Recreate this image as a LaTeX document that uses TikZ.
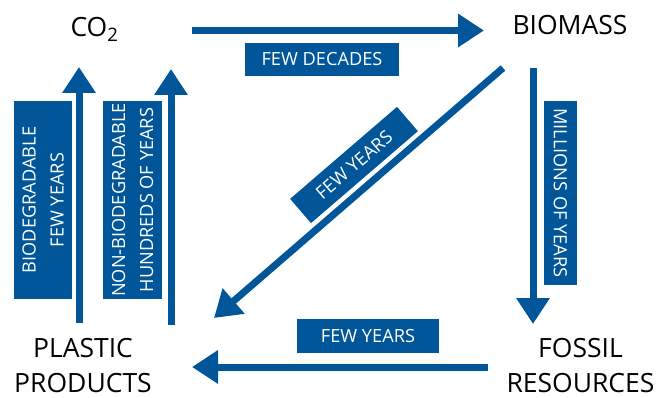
\documentclass[tikz,border=0pt]{standalone}
\usepackage{fontspec}
\setmainfont{Open Sans}
\usetikzlibrary{arrows.meta}
\definecolor{flowblue}{RGB}{0,86,153}
\begin{document}
\begin{tikzpicture}[x=1pt,y=-1pt,
  stage/.style={font=\fontsize{26.5}{35}\selectfont, align=center, text=black, inner sep=0pt, anchor=base},
  tag/.style={fill=flowblue, text=white, font=\fontsize{18.2}{28}\selectfont, align=center, inner sep=0pt},
  flow/.style={draw=flowblue, line width=7pt, -{Triangle[length=26pt,width=32pt]}},
]
\useasboundingbox (0,0) rectangle (656,398);

% stages of the carbon cycle (base anchor sits on the last line)
\node[stage] (co2) at (94.5,37) {CO\textsubscript{2}};
\node[stage] (biomass) at (570,35) {BIOMASS};
\node[stage] (fossil) at (580.5,392) {FOSSIL\\RESOURCES};
\node[stage] (plastic) at (83,392.5) {PLASTIC\\PRODUCTS};

% arrow end points
\coordinate (co2-out) at (192,30.5);
\coordinate (bio-in) at (484,30.5);
\coordinate (bio-down) at (533,68);
\coordinate (fos-in) at (533,324);
\coordinate (fos-out) at (488,367);
\coordinate (pla-in) at (192,367);
\coordinate (bio-diag) at (503,68);
\coordinate (pla-diag) at (214,318);
\coordinate (pla-up1) at (79,323);
\coordinate (co2-in1) at (79,67);
\coordinate (pla-up2) at (171,325);
\coordinate (co2-in2) at (171,69);

% transitions
\draw[flow] (co2-out) -- (bio-in);
\draw[flow] (bio-down) -- (fos-in);
\draw[flow] (fos-out) -- (pla-in);
\draw[flow] (bio-diag) -- (pla-diag);
\draw[flow] (pla-up1) -- (co2-in1);
\draw[flow] (pla-up2) -- (co2-in2);

% time scales
\node[tag, minimum width=154pt, minimum height=33pt] (t-decades) at (322,59.5) {FEW DECADES};
\node[tag, minimum width=184pt, minimum height=33pt, rotate=-90] (t-millions) at (560.5,193) {MILLIONS OF YEARS};
\node[tag, minimum width=142pt, minimum height=34pt] (t-burn) at (368,336) {FEW YEARS};
\node[tag, minimum width=141pt, minimum height=32pt, rotate=40.7] (t-make) at (354,165) {FEW YEARS};
\node[tag, minimum width=198pt, minimum height=58pt, rotate=90] (t-bio) at (43,200) {BIODEGRADABLE\\FEW YEARS};
\node[tag, minimum width=198pt, minimum height=59pt, rotate=90] (t-nonbio) at (132.5,200) {NON-BIODEGRADABLE\\HUNDREDS OF YEARS};
\end{tikzpicture}
\end{document}
